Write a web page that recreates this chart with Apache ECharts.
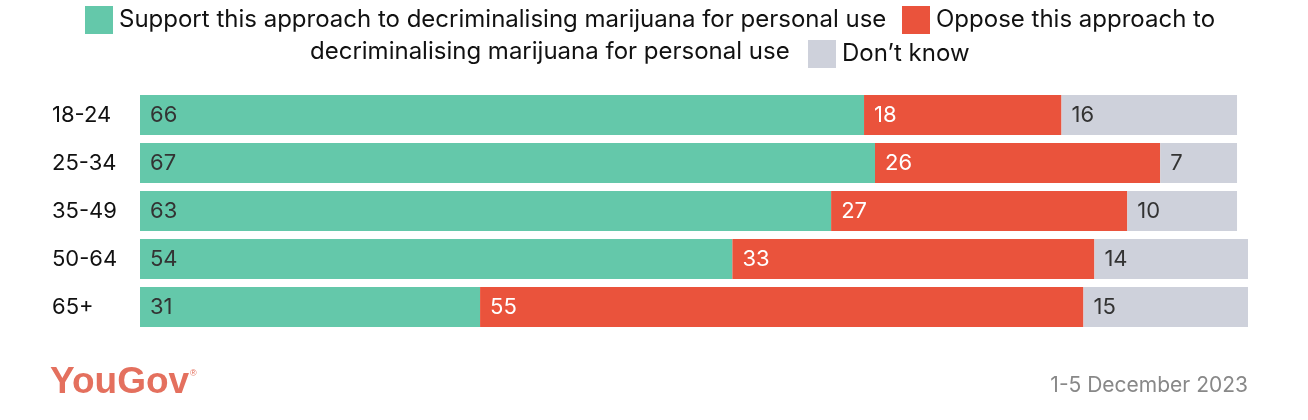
<!DOCTYPE html>
<html>
<head>
<meta charset="utf-8">
<script src="https://cdn.jsdelivr.net/npm/echarts@6/dist/echarts.min.js"></script>
<style>
  html, body { margin: 0; padding: 0; background: #fff; }
  #chart { width: 1308px; height: 420px; }
</style>
</head>
<body>
<div id="chart"></div>
<script>
const categories = ['18-24', '25-34', '35-49', '50-64', '65+'];
const seriesNames = [
  'Support this approach to decriminalising marijuana for personal use',
  'Oppose this approach to decriminalising marijuana for personal use',
  'Don\u2019t know'
];
const supportValues = [66, 67, 63, 54, 31];
const opposeValues = [18, 26, 27, 33, 55];
const dontKnowValues = [16, 7, 10, 14, 15];
const sourceNote = '1-5 December 2023';
const brand = 'YouGov';

const FONT = 'Inter, "Liberation Sans", sans-serif';
const colors = ['#64c8aa', '#ea533c', '#ced1db'];
const labelColors = ['#333333', '#ffffff', '#333333'];
const values = [supportValues, opposeValues, dontKnowValues];

const chart = echarts.init(document.getElementById('chart'));

const legendBase = {
  orient: 'horizontal',
  padding: 0,
  itemWidth: 28,
  itemHeight: 28,
  icon: 'rect',
  selectedMode: false,
  textStyle: { fontFamily: FONT, fontSize: 24, color: '#111111', padding: [0, 0, 0, 1] }
};

chart.setOption({
  animation: false,
  color: colors,
  legend: [
    Object.assign({}, legendBase, { data: [seriesNames[0]], left: 85, top: 6 }),
    Object.assign({}, legendBase, { data: [seriesNames[1]], left: 902, top: 6,
      formatter: () => 'Oppose this approach to' }),
    Object.assign({}, legendBase, { data: [seriesNames[2]], left: 808, top: 40 })
  ],
  graphic: [
    {
      type: 'text',
      left: 310,
      top: 40,
      style: {
        text: 'decriminalising marijuana for personal use',
        font: '24px ' + FONT,
        fill: '#111111'
      }
    },
    {
      type: 'text',
      left: 50,
      top: 364,
      style: {
        text: brand,
        font: 'bold 37px "Liberation Sans", Arial, sans-serif',
        fill: '#e4705e'
      }
    },
    {
      type: 'text',
      left: 190,
      top: 369,
      style: {
        text: '\u00AE',
        font: '9px "Liberation Sans", sans-serif',
        fill: '#e4705e'
      }
    },
    {
      type: 'text',
      right: 60,
      top: 375,
      style: {
        text: sourceNote,
        font: '21px ' + FONT,
        fill: '#888888'
      }
    }
  ],
  grid: { left: 140, right: 60, top: 91, bottom: 89, containLabel: false },
  xAxis: { type: 'value', min: 0, max: 101, show: false },
  yAxis: {
    type: 'category',
    data: categories,
    inverse: true,
    axisLine: { show: false },
    axisTick: { show: false },
    splitLine: { show: false },
    axisLabel: {
      align: 'left',
      margin: 88,
      fontFamily: FONT,
      fontSize: 22,
      color: '#111111'
    }
  },
  series: seriesNames.map((name, i) => ({
    name: name,
    type: 'bar',
    stack: 'total',
    barWidth: 40,
    data: values[i],
    itemStyle: { color: colors[i] },
    label: {
      show: true,
      position: 'insideLeft',
      distance: 10,
      fontFamily: FONT,
      fontSize: 22,
      color: labelColors[i]
    }
  }))
});
</script>
</body>
</html>
